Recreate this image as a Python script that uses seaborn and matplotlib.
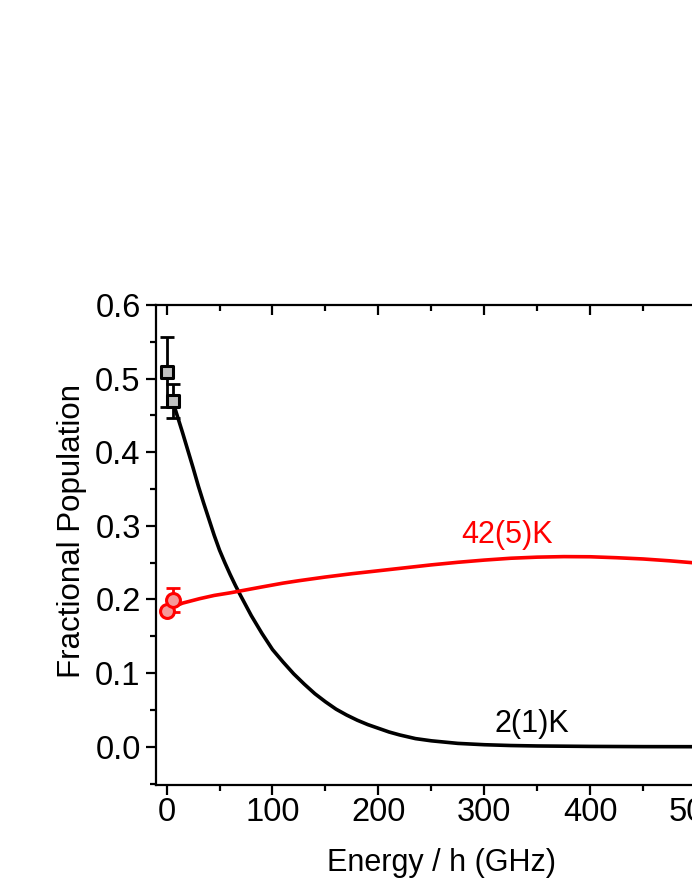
import numpy as np
import pandas as pd
import seaborn as sns
import matplotlib.pyplot as plt
from matplotlib.ticker import MultipleLocator

# measured populations
meas_energy = [0.0, 6.0]
cold_pop = [0.509, 0.470]
cold_err = [0.047, 0.023]
hot_pop = [0.184, 0.199]
hot_err = [0.004, 0.016]

# model curves
cold_x = [5.6, 10, 15, 20, 25, 30, 35, 40, 45, 50, 55, 60, 65, 70, 80, 90, 100, 110, 120,
          130, 140, 150, 160, 170, 180, 190, 200, 210, 220, 235, 250, 275, 300, 325, 350,
          400, 450, 500, 600]
cold_y = [0.470, 0.450, 0.427, 0.403, 0.379, 0.354, 0.331, 0.309, 0.287, 0.267, 0.250,
          0.234, 0.219, 0.205, 0.178, 0.154, 0.132, 0.115, 0.099, 0.085, 0.072, 0.061,
          0.051, 0.043, 0.036, 0.030, 0.025, 0.020, 0.016, 0.011, 0.008, 0.0045, 0.0027,
          0.0016, 0.001, 0.0004, 0.0001, 0.0, 0.0]
hot_x = [5, 15, 31, 45, 60, 75, 90, 110, 125, 150, 175, 200, 225, 250, 275, 300, 325, 350,
         375, 400, 425, 450, 475, 500, 525, 550, 600]
hot_y = [0.189, 0.195, 0.201, 0.2055, 0.209, 0.213, 0.217, 0.2222, 0.2255, 0.2305, 0.235,
         0.239, 0.243, 0.247, 0.2505, 0.2535, 0.256, 0.2575, 0.2582, 0.258, 0.2567, 0.255,
         0.2525, 0.2495, 0.246, 0.2425, 0.235]

sns.set_style('ticks')
plt.rcParams['font.family'] = ['Liberation Sans', 'DejaVu Sans']
for k in ['text.color', 'axes.labelcolor', 'xtick.color', 'ytick.color', 'axes.edgecolor']:
    plt.rcParams[k] = 'black'

fig = plt.figure(figsize=(6.92, 8.96), dpi=100)
ax = fig.add_axes([0.2254, 0.1239, 0.8266, 0.5357])

cold_df = pd.DataFrame({'E': cold_x, 'P': cold_y})
hot_df = pd.DataFrame({'E': hot_x, 'P': hot_y})
sns.lineplot(data=cold_df, x='E', y='P', color='black', lw=2.6, ax=ax, zorder=2)
sns.lineplot(data=hot_df, x='E', y='P', color='red', lw=2.6, ax=ax, zorder=2)

ax.errorbar(meas_energy, cold_pop, yerr=cold_err, fmt='none', ecolor='black',
            elinewidth=2, capsize=5, capthick=2, zorder=3)
ax.errorbar(meas_energy, hot_pop, yerr=hot_err, fmt='none', ecolor='red',
            elinewidth=2, capsize=5, capthick=2, zorder=3)
pts = pd.DataFrame({'E': meas_energy, 'cold': cold_pop, 'hot': hot_pop})
sns.scatterplot(data=pts, x='E', y='cold', marker='s', s=85, color='#c0c0c0',
                edgecolor='black', linewidth=2.2, ax=ax, zorder=4)
sns.scatterplot(data=pts, x='E', y='hot', marker='o', s=100, color='#f59a9a',
                edgecolor='red', linewidth=2.2, ax=ax, zorder=4)

ax.text(321, 0.287, '42(5)K', color='red', ha='center', va='center', fontsize=22)
ax.text(345, 0.031, '2(1)K', color='black', ha='center', va='center', fontsize=22)

ax.set_xlim(-10, 530)
ax.set_ylim(-0.052, 0.6)
ax.xaxis.set_major_locator(MultipleLocator(100))
ax.xaxis.set_minor_locator(MultipleLocator(50))
ax.yaxis.set_major_locator(MultipleLocator(0.1))
ax.yaxis.set_minor_locator(MultipleLocator(0.05))
ax.yaxis.set_major_formatter(plt.FormatStrFormatter('%.1f'))
ax.tick_params(which='both', top=True, right=True, width=1.6, labelsize=23.5,
               direction='out', colors='black')
ax.tick_params(which='major', length=7, pad=4)
ax.tick_params(which='minor', length=4)
ax.tick_params(axis='x', which='major', pad=2)
# top/right ticks point inward
for t in ax.xaxis.get_major_ticks() + ax.xaxis.get_minor_ticks():
    t.tick2line.set_marker(3)
for t in ax.yaxis.get_major_ticks() + ax.yaxis.get_minor_ticks():
    t.tick2line.set_marker(0)
for s in ax.spines.values():
    s.set_linewidth(1.6)
    s.set_color('black')

ax.set_xlabel('Energy / h (GHz)', fontsize=22, labelpad=14)
ax.set_ylabel('Fractional Population', fontsize=22.5)
ax.yaxis.set_label_coords(-0.12, 0.53)

fig.savefig('out.png', dpi=100)
